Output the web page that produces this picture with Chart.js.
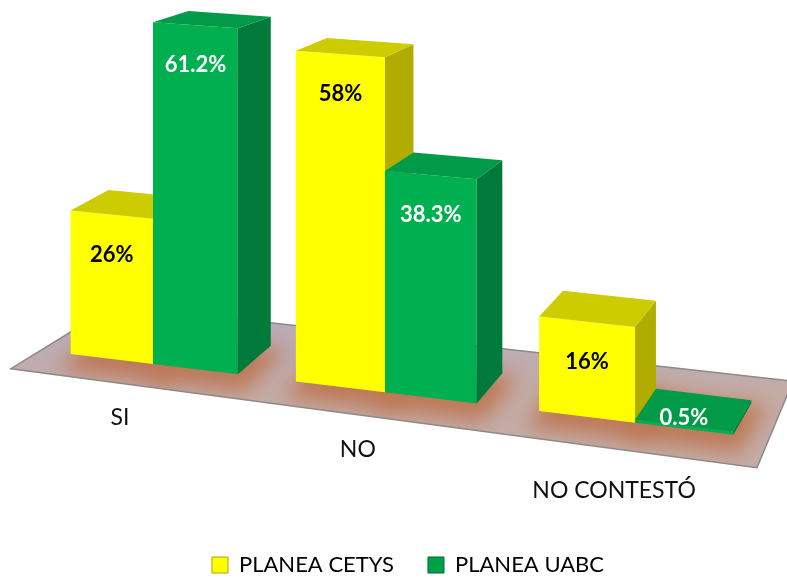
<!DOCTYPE html>
<html>
<head>
<meta charset="utf-8">
<script src="https://cdn.jsdelivr.net/npm/chart.js@4"></script>
<style>
  html, body { margin: 0; padding: 0; background: #fff; }
</style>
</head>
<body>
<canvas id="chart" width="787" height="580"></canvas>
<script>
// survey answers, percent per group
const categories = ["SI", "NO", "NO CONTESTÓ"];
const cetysValues = [26, 58, 16];
const uabcValues = [61.2, 38.3, 0.5];
const seriesNames = ["PLANEA CETYS", "PLANEA UABC"];

// front / top / side shades for each series
const shades = [
  { front: "#ffff00", top: "#cccc00", side: "#b0ac00", edge: "#a8a800", text: "#000000" },
  { front: "#00b050", top: "#009a48", side: "#007a3a", edge: "#006830", text: "#ffffff" }
];

Chart.defaults.font.family = "Lato, 'Noto Sans', sans-serif";

// perspective helpers built on top of the flat scale pixels
function perspective(chart) {
  const x0 = chart.scales.x.getPixelForValue(0);
  const y0 = chart.scales.y.getPixelForValue(0);
  return {
    x0: x0,
    x: px => { const u = px - x0; return x0 + u + 0.000181 * u * u; },
    base: X => y0 + 0.122 * (X - x0),
    grow: X => 1 + 0.000149 * (X - x0),
    depth: (X, Y) => [40 - 0.03 * X, -(10 + 0.05 * Y)]
  };
}

function poly(ctx, pts, fill) {
  ctx.beginPath();
  ctx.moveTo(pts[0][0], pts[0][1]);
  for (let i = 1; i < pts.length; i++) ctx.lineTo(pts[i][0], pts[i][1]);
  ctx.closePath();
  if (fill) { ctx.fillStyle = fill; ctx.fill(); }
}

function add(p, d) { return [p[0] + d[0], p[1] + d[1]]; }

function barBox(p, el) {
  const xl = p.x(el.x - el.width / 2);
  const xr = p.x(el.x + el.width / 2);
  const h = el.base - el.y;
  const bl = [xl, p.base(xl)];
  const br = [xr, p.base(xr)];
  const tl = [xl, bl[1] - h * p.grow(xl)];
  const tr = [xr, br[1] - h * p.grow(xr)];
  return {
    h: h,
    bl, br, tl, tr,
    tlb: add(tl, p.depth(tl[0], tl[1])),
    trb: add(tr, p.depth(tr[0], tr[1])),
    blb: add(bl, p.depth(bl[0], bl[1])),
    brb: add(br, p.depth(br[0], br[1]))
  };
}

const bars3d = {
  id: "bars3d",
  beforeDatasetsDraw(chart) {
    const ctx = chart.ctx;
    const p = perspective(chart);
    const x0 = p.x0;

    // floor
    const fl = x0 - 142, fr = x0 + 604, bkl = x0 - 39, bkr = x0 + 640;
    const floor = [
      [fl, p.base(fl) + 22],
      [bkl, p.base(bkl) - 54],
      [bkr, p.base(bkr) - 61],
      [fr, p.base(fr) + 30]
    ];
    ctx.save();
    const g = ctx.createLinearGradient(0, p.base(x0) - 40, 0, p.base(x0) + 30);
    g.addColorStop(0, "#b9acb9");
    g.addColorStop(1, "#c4aca6");
    poly(ctx, floor, g);

    // collect bars left to right
    const boxes = [];
    chart.data.datasets.forEach((ds, di) => {
      const meta = chart.getDatasetMeta(di);
      meta.data.forEach((el, i) => {
        boxes.push({ box: barBox(p, el), shade: shades[di], value: ds.data[i], x: el.x });
      });
    });
    boxes.sort((a, b) => a.x - b.x);

    // brown halo round the bar feet
    ctx.save();
    poly(ctx, floor, null);
    ctx.clip();
    ctx.filter = "blur(10px)";
    boxes.forEach(b => {
      const k = b.box;
      poly(ctx, [
        [k.bl[0] - 12, k.bl[1] + 16],
        [k.br[0] + 6, k.br[1] + 18],
        [k.brb[0] + 16, k.brb[1] + 4],
        [k.blb[0] - 6, k.blb[1]]
      ], "rgba(188,116,80,0.9)");
    });
    ctx.filter = "none";
    ctx.restore();

    ctx.lineWidth = 1.5;
    ctx.strokeStyle = "#8a8a8a";
    poly(ctx, floor, null);
    ctx.stroke();

    // boxes
    boxes.forEach(b => {
      const k = b.box, s = b.shade;
      poly(ctx, [k.tl, k.tr, k.br, k.bl], s.front);
      poly(ctx, [k.tr, k.trb, k.brb, k.br], s.side);
      poly(ctx, [k.tl, k.tlb, k.trb, k.tr], s.top);
    });

    // value labels
    ctx.font = "bold 22px Lato, sans-serif";
    ctx.textAlign = "center";
    ctx.textBaseline = "middle";
    boxes.forEach(b => {
      const k = b.box;
      let lx, ly;
      if (k.h > 30) {
        lx = (k.tl[0] + k.tr[0]) / 2;
        ly = (k.tl[1] + k.tr[1]) / 2 + 40;
      } else {
        lx = (k.tl[0] + k.tr[0] + k.tlb[0] + k.trb[0]) / 4 - 10;
        ly = (k.tl[1] + k.tr[1] + k.tlb[1] + k.trb[1]) / 4 + 8;
      }
      ctx.fillStyle = b.shade.text;
      ctx.fillText(b.value + "%", lx, ly);
    });

    // category names in front of the floor
    ctx.font = "23px Lato, sans-serif";
    ctx.fillStyle = "#111";
    chart.data.labels.forEach((lab, i) => {
      const X = p.x(chart.scales.x.getPixelForValue(i));
      const u = X - x0;
      ctx.fillText(lab, X - 33 + 0.025 * u, p.base(X) + 54 + 0.00006 * u * u);
    });
    ctx.restore();
    return false;
  }
};

new Chart(document.getElementById("chart"), {
  type: "bar",
  data: {
    labels: categories,
    datasets: [
      {
        label: seriesNames[0],
        data: cetysValues,
        backgroundColor: shades[0].front,
        borderColor: shades[0].edge,
        borderWidth: 1
      },
      {
        label: seriesNames[1],
        data: uabcValues,
        backgroundColor: "#00a04a",
        borderColor: shades[1].edge,
        borderWidth: 1
      }
    ]
  },
  options: {
    responsive: false,
    animation: false,
    categoryPercentage: 0.75,
    barPercentage: 1.0,
    layout: { padding: { left: 41.5, right: 12.5, top: 1, bottom: -6 } },
    plugins: {
      legend: {
        position: "bottom",
        labels: {
          boxWidth: 16,
          boxHeight: 16,
          padding: 34,
          color: "#000",
          font: { size: 22 }
        }
      },
      tooltip: { enabled: false }
    },
    scales: {
      x: {
        grid: { display: false },
        border: { display: false },
        ticks: { display: false },
        afterFit: s => { s.height = 156; }
      },
      y: {
        position: "right",
        min: 0,
        max: 65,
        grid: { display: false },
        border: { display: false },
        ticks: { display: false },
        afterFit: s => { s.width = 64; }
      }
    }
  },
  plugins: [bars3d]
});
</script>
</body>
</html>
